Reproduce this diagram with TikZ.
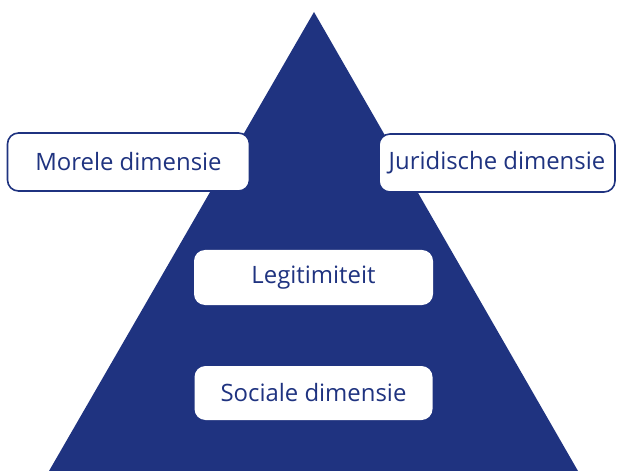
\documentclass[tikz,border=0pt]{standalone}
\usepackage{fontspec}
\setmainfont{Open Sans}
\definecolor{rijksblauw}{RGB}{31,51,128}
\begin{document}
\begin{tikzpicture}[x=1bp,y=-1bp,
  dimbox/.style={rectangle, rounded corners=11bp, fill=white, text=rijksblauw,
    font=\fontsize{24}{28}\selectfont, inner sep=0pt, anchor=center},
  outlined/.style={dimbox, draw=rijksblauw, line width=1.6bp}]
\useasboundingbox (0,0) rectangle (617,471);
% the pyramid
\coordinate (top) at (314,12);
\coordinate (bl) at (49,471);
\coordinate (br) at (578,471);
\fill[rijksblauw] (bl) -- (top) -- (br) -- cycle;
% the four labels
\node[outlined, minimum width=242bp, minimum height=58bp] (moreel) at (128.5,162) {Morele dimensie};
\node[outlined, minimum width=236bp, minimum height=58bp] (juridisch) at (497,163) {Juridische dimensie};
\node[dimbox, minimum width=239bp, minimum height=55bp] (legitimiteit) at (313.5,277.5) {Legitimiteit};
\node[dimbox, minimum width=238bp, minimum height=54bp] (sociaal) at (313.5,393) {Sociale dimensie};
\end{tikzpicture}
\end{document}
